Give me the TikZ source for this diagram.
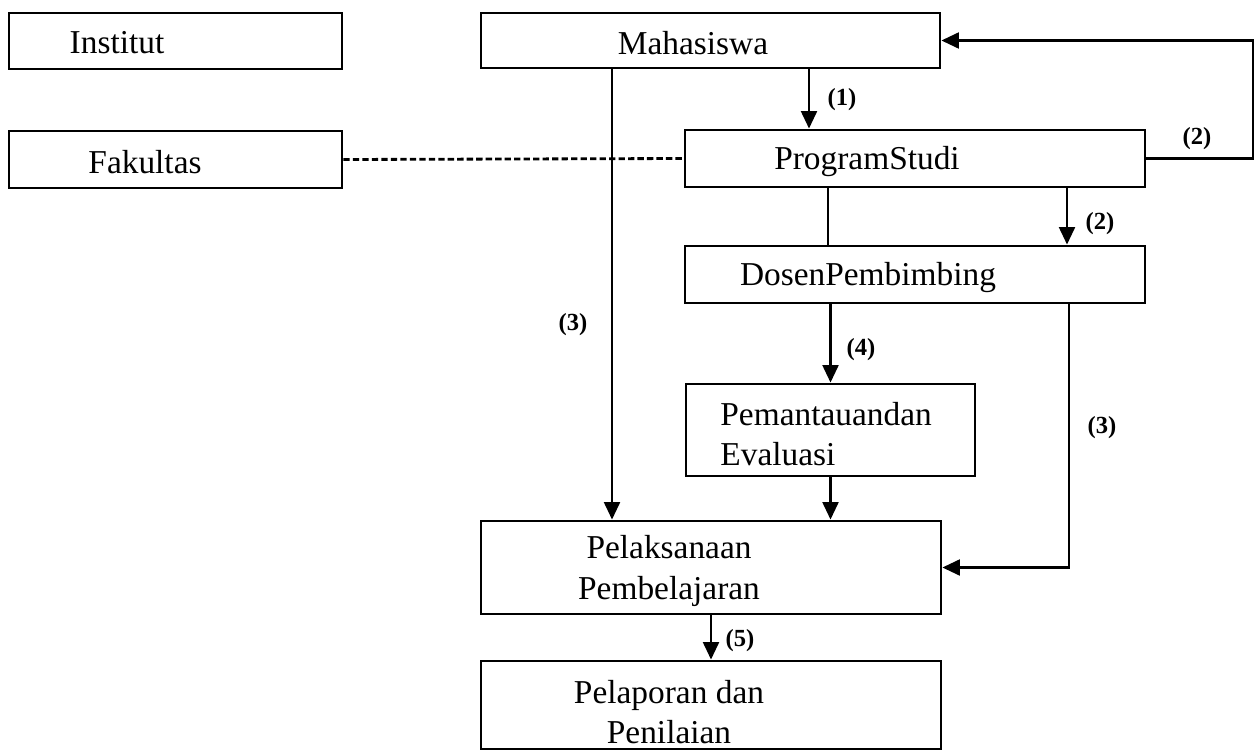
\documentclass[tikz,border=0pt]{standalone}
\usepackage{fontspec}
\setmainfont{Liberation Serif}
\usetikzlibrary{arrows.meta}

\begin{document}
\begin{tikzpicture}[x=0.02cm,y=-0.02cm,line width=1.6pt,
    box/.style={draw,rectangle,inner sep=0pt},
    txt/.style={font=\fontsize{19}{23}\selectfont,inner sep=0pt,align=center},
    lbl/.style={font=\fontsize{14}{16}\selectfont\bfseries,inner sep=0pt},
    arr/.style={-{Triangle[length=10pt,width=9pt]}}]
    \useasboundingbox (0,0) rectangle (1256,750);

    \node[box,minimum width=6.66cm,minimum height=1.12cm] (inst) at (175.5,41) {};
    \node[box,minimum width=6.66cm,minimum height=1.14cm] (fak) at (175.5,159.5) {};
    \node[box,minimum width=9.18cm,minimum height=1.10cm] (maha) at (710.5,40.5) {};
    \node[box,minimum width=9.2cm,minimum height=1.14cm] (prodi) at (915,158.5) {};
    \node[box,minimum width=9.2cm,minimum height=1.14cm] (dosen) at (915,274.5) {};
    \node[box,minimum width=5.78cm,minimum height=1.84cm] (monev) at (830.5,430) {};
    \node[box,minimum width=9.2cm,minimum height=1.86cm] (pelak) at (711,567.5) {};
    \node[box,minimum width=9.2cm,minimum height=1.76cm] (lapor) at (711,705) {};

    \node[txt] (instT) at (117,43) {Institut};
    \node[txt] (fakT) at (145,162) {Fakultas};
    \node[txt] (mahaT) at (693,43) {Mahasiswa};
    \node[txt] (prodiT) at (867,162) {ProgramStudi};
    \node[txt] (dosenT) at (868,278) {DosenPembimbing};
    \node[txt,anchor=west,align=left] (monevT) at (719,434) {Pemantauandan\\Evaluasi};
    \node[txt] (pelakT) at (669,571) {Pelaksanaan\\Pembelajaran};
    \node[txt] (laporT) at (669,712) {Pelaporan dan\\Penilaian};

    \coordinate (xa) at (612,0);
    \coordinate (xb) at (809,0);
    \coordinate (xc) at (828,0);
    \coordinate (xd) at (1067,0);
    \coordinate (xe) at (1069,0);
    \coordinate (loop) at (1253,0);

    \draw[dash pattern=on 3.6pt off 1.8pt] (fak.east) -- (prodi.west);
    \draw[arr] (maha.south -| xa) -- (pelak.north -| xa);
    \draw[arr] (maha.south -| xb) -- (prodi.north -| xb);
    \draw[arr] (prodi.east) -- (prodi.east -| loop) |- (maha.east);
    \draw (prodi.south -| xc) -- (dosen.north -| xc);
    \draw[arr] (prodi.south -| xd) -- (dosen.north -| xd);
    \draw[arr] (dosen.south -| monev.north) -- (monev.north);
    \draw[arr] (monev.south) -- (pelak.north -| monev.south);
    \draw[arr] (dosen.south -| xe) |- (pelak.east);
    \draw[arr] (pelak.south) -- (lapor.north);

    \node[lbl] (l1) at (842,100) {(1)};
    \node[lbl] (l2a) at (1197,139) {(2)};
    \node[lbl] (l2b) at (1100,224) {(2)};
    \node[lbl] (l3a) at (573,325) {(3)};
    \node[lbl] (l4) at (861,350) {(4)};
    \node[lbl] (l3b) at (1102,428) {(3)};
    \node[lbl] (l5) at (740,641) {(5)};
\end{tikzpicture}
\end{document}
